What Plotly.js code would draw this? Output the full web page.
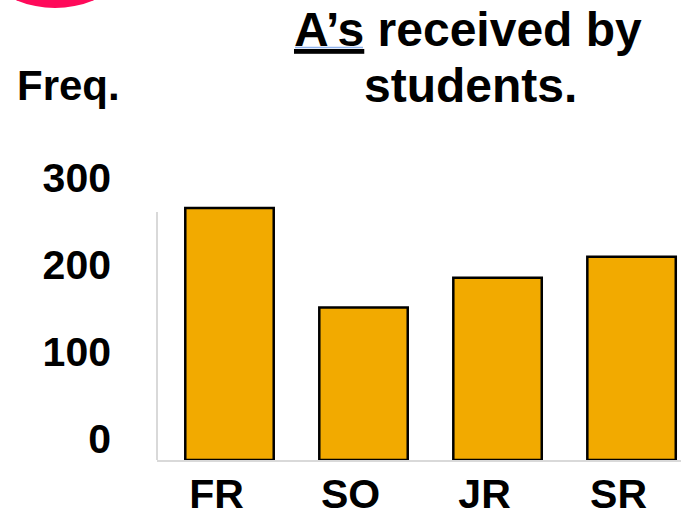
<!DOCTYPE html>
<html>
<head>
<meta charset="utf-8">
<script src="https://cdn.plot.ly/plotly-3.0.1.min.js"></script>
<style>html,body{margin:0;padding:0;background:#fff;}#chart{width:684px;height:519px;}</style>
</head>
<body>
<div id="chart"></div>
<script>
const categories = ["FR", "SO", "JR", "SR"];
const freqValues = [289, 175, 209, 233];
const yTickVals = [0, 100, 200, 300];
const yTickText = ["0", "100", "200", "300"];
const titleLine1 = "<u>A’s</u> received by";
const titleLine2 = "students.";
const yLabel = "Freq.";

// layout geometry
const L = 157, R = 3, T = 190, B = 59;
const W = 684, H = 519;
const pw = W - L - R, ph = H - T - B;
const px2x = p => (p - L) / pw;
const py2y = p => (H - B - p) / ph;

const FONT = "Liberation Sans, Arial, sans-serif";

const trace = {
  type: "bar",
  x: categories,
  y: freqValues,
  marker: { color: "#F2AA00", line: { color: "#000000", width: 2.5 } },
  hoverinfo: "x+y"
};

const layout = {
  width: W, height: H,
  margin: { l: L, r: R, t: T, b: B, pad: 0 },
  paper_bgcolor: "#ffffff",
  plot_bgcolor: "#ffffff",
  showlegend: false,
  bargap: 0.34,
  font: { family: FONT, color: "#000000" },
  xaxis: {
    type: "category",
    range: [-0.541, 3.369],
    showline: true, linecolor: "#d9d9d9", linewidth: 2,
    showgrid: false, zeroline: false, ticks: "",
    tickfont: { family: FONT, size: 41, color: "#000000", weight: "bold" },
    ticklabelstandoff: -3,
    ticklabelshift: -13
  },
  yaxis: {
    range: [0, 309.6],
    showline: false, showgrid: false, zeroline: false, ticks: "",
    tickvals: yTickVals, ticktext: yTickText,
    tickfont: { family: FONT, size: 41, color: "#000000", weight: "bold" },
    ticklabelstandoff: 45,
    ticklabelshift: -21
  },
  shapes: [
    { type: "line", xref: "paper", yref: "paper", x0: 0, x1: 0, y0: 0, y1: py2y(212),
      line: { color: "#d9d9d9", width: 2 }, layer: "below" },
    { type: "circle", xref: "paper", yref: "paper",
      x0: px2x(55 - 100), x1: px2x(55 + 100), y0: py2y(8), y1: py2y(8 - 200),
      fillcolor: "#FF0A5A", line: { width: 0 } },
    { type: "line", xref: "paper", yref: "paper", x0: px2x(295), x1: px2x(363), y0: py2y(47.5), y1: py2y(47.5),
      line: { color: "#8FB2EC", width: 1.5 } },
    { type: "line", xref: "paper", yref: "paper", x0: px2x(295), x1: px2x(363), y0: py2y(50.5), y1: py2y(50.5),
      line: { color: "#8FB2EC", width: 1.5 } }
  ],
  annotations: [
    { text: titleLine1, xref: "paper", yref: "paper", x: px2x(467.5), y: py2y(29),
      xanchor: "center", yanchor: "middle", showarrow: false,
      font: { family: FONT, size: 48, color: "#000000", weight: "bold" } },
    { text: titleLine2, xref: "paper", yref: "paper", x: px2x(470), y: py2y(85),
      xanchor: "center", yanchor: "middle", showarrow: false,
      font: { family: FONT, size: 48, color: "#000000", weight: "bold" } },
    { text: yLabel, xref: "paper", yref: "paper", x: px2x(68), y: py2y(85),
      xanchor: "center", yanchor: "middle", showarrow: false,
      font: { family: FONT, size: 42, color: "#000000", weight: "bold" } }
  ]
};

Plotly.newPlot("chart", [trace], layout, { displayModeBar: false, staticPlot: true });
</script>
</body>
</html>
